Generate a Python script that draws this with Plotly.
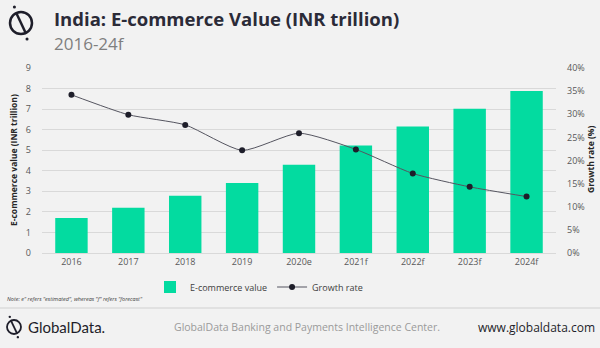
import plotly.graph_objects as go

# Data
years = ["2016", "2017", "2018", "2019", "2020e", "2021f", "2022f", "2023f", "2024f"]
ecommerce_value = [1.70, 2.20, 2.78, 3.40, 4.29, 5.23, 6.15, 7.02, 7.88]  # INR trillion
growth_rate = [34.2, 29.9, 27.7, 22.2, 25.9, 22.4, 17.2, 14.3, 12.2]      # %
left_ticks = list(range(0, 10))
right_ticks = list(range(0, 45, 5))
right_tick_labels = [f"{v}%" for v in right_ticks]

W, H = 600, 348
L, R, T, B = 42, 44, 68, 95
PW, PH = W - L - R, H - T - B

def px(x):
    return (x - L) / PW

def py(y):
    return (H - B - y) / PH

BG = "#f2f2f2"
GREEN = "#03dba0"
FONT = "Open Sans"

fig = go.Figure()
fig.add_trace(go.Bar(
    x=years, y=ecommerce_value, name="E-commerce value",
    marker=dict(color=GREEN, line=dict(width=0)), width=0.57, yaxis="y",
))
fig.add_trace(go.Scatter(
    x=years, y=growth_rate, name="Growth rate", yaxis="y2",
    mode="lines+markers", line=dict(color="#555560", width=1, shape="spline", smoothing=0.6),
    marker=dict(color="#1e1e2a", size=6),
))

fig.update_layout(
    width=W, height=H,
    margin=dict(l=L, r=R, t=T, b=B, autoexpand=False),
    paper_bgcolor=BG, plot_bgcolor=BG,
    font=dict(family=FONT, color="#595959", size=9),
    xaxis=dict(
        showgrid=False, showline=True, linecolor="#d9d9d9", ticks="",
        tickfont=dict(size=9, color="#595959"),
    ),
    yaxis=dict(
        range=[0, 9], tickvals=left_ticks, showgrid=True, gridcolor="#d9d9d9",
        gridwidth=1, zeroline=False, ticks="", tickfont=dict(size=9, color="#595959"),
        ticklabelstandoff=10,
    ),
    yaxis2=dict(
        range=[0, 40], tickmode="array", tickvals=right_ticks, ticktext=right_tick_labels,
        overlaying="y", side="right", showgrid=False, zeroline=False, ticks="",
        tickfont=dict(size=9, color="#595959"), ticklabelstandoff=10,
    ),
    legend=dict(
        orientation="h", x=px(150), y=py(287), xanchor="left", yanchor="middle",
        bgcolor="rgba(0,0,0,0)", font=dict(size=9, color="#404040", family=FONT),
        itemwidth=30, tracegroupgap=0,
    ),
    showlegend=True,
)

annotations = [
    dict(text="<b>India: E-commerce Value (INR trillion)</b>", x=px(52), y=py(18),
         font=dict(size=18.5, color="#2b2b38", family=FONT), xanchor="left", yanchor="middle"),
    dict(text="2016-24f", x=px(52), y=py(43),
         font=dict(size=17, color="#7f7f7f", family=FONT), xanchor="left", yanchor="middle"),
    dict(text="<b>E-commerce value (INR trillion)</b>", x=px(13), y=py(160), textangle=-90,
         font=dict(size=8.5, color="#262626", family=FONT), xanchor="center", yanchor="middle"),
    dict(text="<b>Growth rate (%)</b>", x=px(590), y=py(160), textangle=-90,
         font=dict(size=8.5, color="#262626", family=FONT), xanchor="center", yanchor="middle"),
    dict(text="<i>Note: e\" refers \"estimated\", whereas \"f\" refers \"forecast\"</i>", x=px(5), y=py(299),
         font=dict(size=5.5, color="#404040", family=FONT), xanchor="left", yanchor="middle"),
    dict(text="GlobalData.", x=px(26), y=py(327),
         font=dict(size=15, color="#1e1e2a", family="Lato"), xanchor="left", yanchor="middle"),
    dict(text="GlobalData Banking and Payments Intelligence Center.", x=px(172), y=py(327),
         font=dict(size=10.5, color="#9a9a9a", family=FONT), xanchor="left", yanchor="middle"),
    dict(text="www.globaldata.com", x=px(597), y=py(327),
         font=dict(size=12, color="#1e1e2a", family=FONT), xanchor="right", yanchor="middle"),
]
for a in annotations:
    a.update(xref="paper", yref="paper", showarrow=False)
fig.update_layout(annotations=annotations)

def logo(cx, cy, r, lw):
    """Circle-with-slash brand mark drawn as paper-coordinate shapes."""
    shapes = []
    shapes.append(dict(type="circle", xref="paper", yref="paper",
                       x0=px(cx - r), x1=px(cx + r), y0=py(cy + r), y1=py(cy - r),
                       line=dict(color="#1e1e2a", width=lw)))
    shapes.append(dict(type="line", xref="paper", yref="paper",
                       x0=px(cx - 0.45 * r), y0=py(cy - 0.95 * r), x1=px(cx + 0.45 * r), y1=py(cy + 0.95 * r),
                       line=dict(color="#1e1e2a", width=lw)))
    for dx, dy in [(-0.6 * r, -1.45 * r), (0.55 * r, 1.45 * r)]:
        d = max(1.2, r * 0.14)
        shapes.append(dict(type="circle", xref="paper", yref="paper",
                           x0=px(cx + dx - d), x1=px(cx + dx + d),
                           y0=py(cy + dy + d), y1=py(cy + dy - d),
                           fillcolor="#1e1e2a", line=dict(width=0)))
    return shapes

shapes = []
shapes += logo(21, 23, 11, 2.5)
shapes += logo(14, 327, 7, 1.8)
shapes.append(dict(type="line", xref="paper", yref="paper",
                   x0=px(0), x1=px(600), y0=py(308), y1=py(308),
                   line=dict(color="#d0d0d0", width=1)))
fig.update_layout(shapes=shapes)

fig.write_html("out.html")
